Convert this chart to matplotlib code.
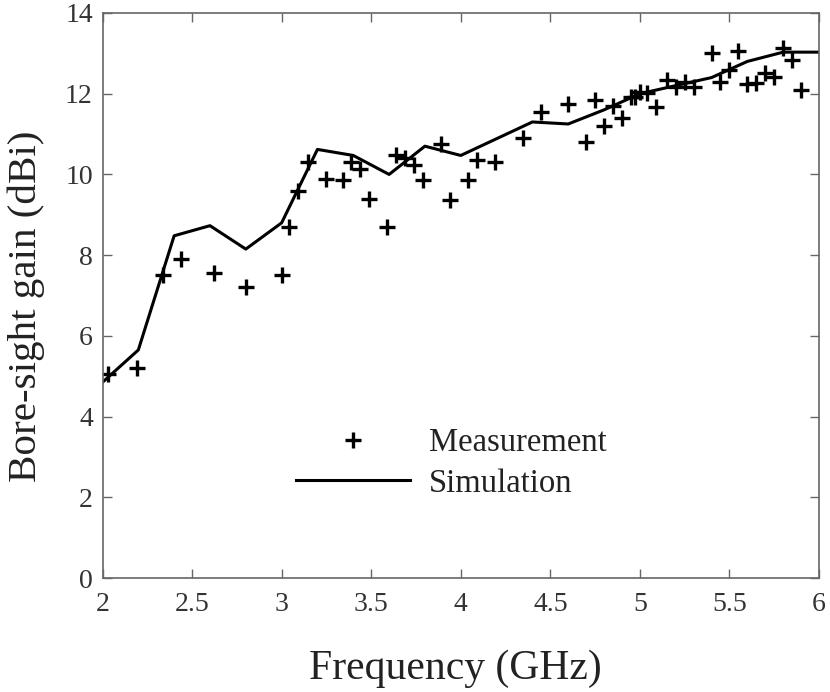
import matplotlib
matplotlib.use("Agg")
import matplotlib.pyplot as plt

# measured points
meas_f = [2.03, 2.19, 2.34, 2.44, 2.62, 2.8, 3.0, 3.04, 3.09, 3.15, 3.25, 3.34, 3.39, 3.44, 3.49,
          3.59, 3.64, 3.69, 3.74, 3.79, 3.89, 3.94, 4.04, 4.09, 4.19, 4.35, 4.45, 4.6, 4.7, 4.75,
          4.8, 4.85, 4.9, 4.95, 4.97, 5.0, 5.04, 5.09, 5.15, 5.2, 5.25, 5.3, 5.4, 5.45, 5.5, 5.55, 5.6,
          5.65, 5.7, 5.75, 5.8, 5.85, 5.9]
meas_g = [5.05, 5.2, 7.5, 7.9, 7.55, 7.2, 7.5, 8.69, 9.6, 10.32, 9.88, 9.85, 10.3, 10.14, 9.4,
          8.69, 10.49, 10.4, 10.24, 9.87, 10.76, 9.37, 9.87, 10.35, 10.3, 10.9, 11.55, 11.75, 10.8, 11.85,
          11.19, 11.7, 11.39, 11.93, 11.91, 12.05, 12.03, 11.68, 12.34, 12.16, 12.28, 12.16, 13.0, 12.3, 12.6, 13.07, 12.24,
          12.26, 12.52, 12.41, 13.13, 12.84, 12.08]

# simulation curve
sim_f = [2.0, 2.2, 2.4, 2.6, 2.8, 3.0, 3.2, 3.4, 3.6, 3.8, 4.0, 4.4, 4.6, 4.8, 5.0, 5.2, 5.4, 5.6, 5.8, 6.0]
sim_g = [4.85, 5.65, 8.48, 8.73, 8.15, 8.8, 10.62, 10.47, 10.0, 10.7, 10.47, 11.3, 11.25, 11.6, 12.0, 12.2, 12.4, 12.8, 13.03, 13.03]

plt.rcParams['font.family'] = ['Liberation Serif', 'DejaVu Serif']

fig = plt.figure(figsize=(8.3, 6.92), dpi=100)
ax = fig.add_axes([102.5/830, 1-578/692, (819-102.5)/830, (578-13)/692])

ax.plot(meas_f, meas_g, '+', color='black', ms=12, mew=2.4, label='Measurement')
ax.plot(sim_f, sim_g, '-', color='black', lw=2.2, label='Simulation')

ax.set_xlim(2, 6)
ax.set_ylim(0, 14)
ax.set_xticks([2, 2.5, 3, 3.5, 4, 4.5, 5, 5.5, 6])
ax.set_xticklabels(['2', '2.5', '3', '3.5', '4', '4.5', '5', '5.5', '6'])
ax.set_yticks([0, 2, 4, 6, 8, 10, 12, 14])
ax.tick_params(direction='in', length=6.5, width=1, color='#666666', labelcolor='#333333',
               labelsize=20, top=True, right=True)
ax.tick_params(axis='x', pad=10)
ax.tick_params(axis='y', pad=7)
for s in ax.spines.values():
    s.set_color('#666666')
    s.set_linewidth(1.2)

ax.set_xlabel('Frequency (GHz)', fontsize=30, color='#222222', va='center')
ax.set_ylabel('Bore-sight gain (dBi)', fontsize=29.6, color='#222222', va='center')
ax.xaxis.set_label_coords(0.492, -0.161)
ax.yaxis.set_label_coords(-0.106, 0.48)

leg = ax.legend(loc='lower left', bbox_to_anchor=(0.229, 0.088), frameon=False, fontsize=23.5,
                handlelength=3.5, handletextpad=0.58, labelspacing=0.32)
for t in leg.get_texts():
    t.set_color('#222222')

fig.savefig('out.png', dpi=100)
